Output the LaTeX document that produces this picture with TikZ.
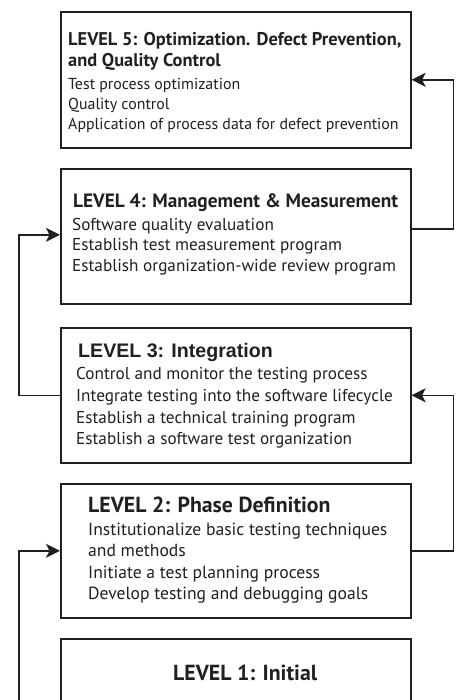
\documentclass[tikz,border=0pt]{standalone}
\usepackage{fontspec}
\setmainfont{PT Sans}
\newfontfamily\arialfont{Liberation Sans}
\usetikzlibrary{arrows.meta}
\definecolor{ink}{HTML}{231F20}
\newcommand\fs[1]{\fontsize{#1}{#1}\selectfont}
\begin{document}
\begin{tikzpicture}[x=1pt,y=-1pt,
  level/.style={draw=ink, line width=1.6pt, rectangle, inner sep=0pt,
                minimum width=350pt, anchor=north west},
  txt/.style={anchor=base west, inner sep=0pt, text=ink},
  head/.style={txt, font=\bfseries\fs{#1}},
  body/.style={txt, font=\fs{#1}},
  arr/.style={draw=ink, line width=1.6pt,
              -{Stealth[length=14pt,width=14pt,inset=3.5pt]}}]
\useasboundingbox (0,0) rectangle (458,700);
\fill[white] (0,0) rectangle (458,700);

% level boxes
\node[level, minimum height=136pt] (b5) at (60,11) {};
\node[level, minimum height=135pt] (b4) at (60,168) {};
\node[level, minimum height=135pt] (b3) at (60,327) {};
\node[level, minimum height=134pt] (b2) at (60,483) {};
\node[level, minimum height=68pt]  (b1) at (60,638) {};

% level 5
\node[head=18.4] (h5a) at (68,46) {LEVEL 5: Optimization. Defect Prevention,};
\node[head=18.4] (h5b) at (68,67) {and Quality Control};
\node[body=15.9] (t5a) at (68,90) {Test process optimization};
\node[body=15.9] (t5b) at (68,110) {Quality control};
\node[body=15.9] (t5c) at (68,130) {Application of process data for defect prevention};

% level 4
\node[head=19.3] (h4) at (73,208) {LEVEL 4: Management \& Measurement};
\node[body=17.2] (t4a) at (72,231) {Software quality evaluation};
\node[body=17.2] (t4b) at (72,251) {Establish test measurement program};
\node[body=17.2] (t4c) at (72,271) {Establish organization-wide review program};

% level 3
\node[txt, font=\arialfont\bfseries\fs{19.6}] (h3) at (78,357) {LEVEL 3: Integration};
\node[body=17.2] (t3a) at (76,379) {Control and monitor the testing process};
\node[body=17.2] (t3b) at (76,401) {Integrate testing into the software lifecycle};
\node[body=17.2] (t3c) at (76,423) {Establish a technical training program};
\node[body=17.2] (t3d) at (76,444) {Establish a software test organization};

% level 2
\node[head=21.8] (h2) at (88,512) {LEVEL 2: Phase Definition};
\node[body=17.6] (t2a) at (88,535) {Institutionalize basic testing techniques};
\node[body=17.6] (t2b) at (88,556) {and methods};
\node[body=17.6] (t2c) at (88,578) {Initiate a test planning process};
\node[body=17.6] (t2d) at (88,599) {Develop testing and debugging goals};

% level 1
\node[head=21.8] (h1) at (173,680) {LEVEL 1: Initial};

% connectors between levels
\draw[arr] ([yshift=-34pt]b1.west) -- ++(-41,0) |- (b2.west);
\draw[arr] (b2.east) -- ++(42,0) |- (b3.east);
\draw[arr] (b3.west) -- ++(-41,0) |- ([yshift=1.5pt]b4.west);
\draw[arr] ([yshift=7.5pt]b4.east) -- ++(42,0) |- (b5.east);
\end{tikzpicture}
\end{document}
